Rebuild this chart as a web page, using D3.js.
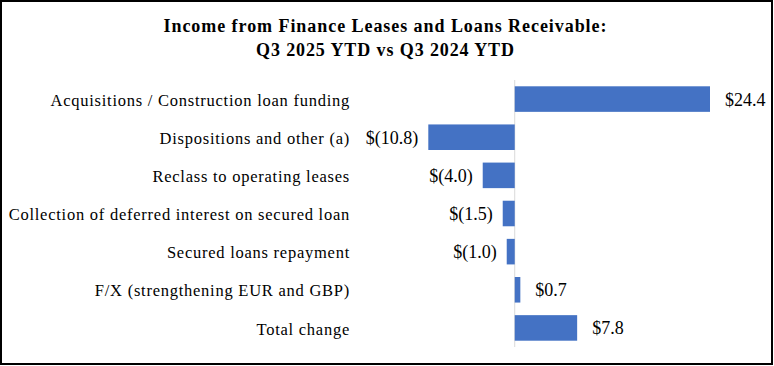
<!DOCTYPE html>
<html>
<head>
<meta charset="utf-8">
<script src="https://cdn.jsdelivr.net/npm/d3@7"></script>
<style>
    body { margin: 0; background: #fff; }
</style>
</head>
<body>
<script>
(function(){

    //chart data
    var categories = ["Acquisitions / Construction loan funding", "Dispositions and other (a)", "Reclass to operating leases", "Collection of deferred interest on secured loan", "Secured loans repayment", "F/X (strengthening EUR and GBP)", "Total change"];
    var values = [24.4, -10.8, -4.0, -1.5, -1.0, 0.7, 7.8];
    var valueLabels = ["$24.4", "$(10.8)", "$(4.0)", "$(1.5)", "$(1.0)", "$0.7", "$7.8"];
    var titleLines = ["Income from Finance Leases and Loans Receivable:", "Q3 2025 YTD vs Q3 2024 YTD"];

    var width = 774,
        height = 366,
        serif = "'Liberation Serif', 'Times New Roman', Times, serif";

    var svg = d3.select("body")
        .append("svg")
        .attr("width", width)
        .attr("height", height);

    //background and outer frame
    svg.append("rect")
        .attr("x", 1)
        .attr("y", 1)
        .attr("width", 771)
        .attr("height", 363)
        .style("fill", "#fff")
        .style("stroke", "#000")
        .style("stroke-width", 2);

    //title, spread out a little like the original
    var titleWidths = [443, 258];
    svg.selectAll(".title")
        .data(titleLines)
        .enter()
        .append("text")
        .attr("class", "title")
        .attr("x", 385)
        .attr("y", function(d, i){ return 32 + i * 24; })
        .attr("text-anchor", "middle")
        .attr("font-family", serif)
        .attr("font-size", 18)
        .attr("font-weight", "bold")
        .attr("textLength", function(d, i){ return titleWidths[i]; })
        .attr("lengthAdjust", "spacing")
        .text(function(d){ return d; });

    //scales
    var xScale = d3.scaleLinear()
        .domain(d3.extent(values))
        .range([428.3, 710]);

    var yScale = d3.scaleBand()
        .domain(categories)
        .range([80, 347])
        .paddingInner(0.33)
        .paddingOuter(0.165);

    //zero line
    svg.append("line")
        .attr("x1", xScale(0))
        .attr("x2", xScale(0))
        .attr("y1", 80)
        .attr("y2", 347)
        .style("stroke", "#d9d9d9")
        .style("stroke-width", 1);

    //bars
    svg.selectAll(".bar")
        .data(values)
        .enter()
        .append("rect")
        .attr("class", "bar")
        .attr("x", function(d){ return xScale(Math.min(0, d)); })
        .attr("y", function(d, i){ return yScale(categories[i]); })
        .attr("width", function(d){ return Math.abs(xScale(d) - xScale(0)); })
        .attr("height", yScale.bandwidth())
        .style("fill", "#4472c4");

    //category labels
    svg.selectAll(".catLabel")
        .data(categories)
        .enter()
        .append("text")
        .attr("class", "catLabel")
        .attr("x", 350)
        .attr("y", function(d){ return yScale(d) + yScale.bandwidth() / 2; })
        .attr("dy", "0.4em")
        .attr("text-anchor", "end")
        .attr("font-family", serif)
        .attr("font-size", 16.5)
        .attr("letter-spacing", "0.75px")
        .text(function(d){ return d; });

    //value labels
    svg.selectAll(".valLabel")
        .data(values)
        .enter()
        .append("text")
        .attr("class", "valLabel")
        .attr("x", function(d){ return d < 0 ? xScale(d) - 10 : xScale(d) + 15; })
        .attr("y", function(d, i){ return yScale(categories[i]) + yScale.bandwidth() / 2; })
        .attr("dy", "0.36em")
        .attr("text-anchor", function(d){ return d < 0 ? "end" : "start"; })
        .attr("font-family", serif)
        .attr("font-size", 18)
        .text(function(d, i){ return valueLabels[i]; });

})();
</script>
</body>
</html>
